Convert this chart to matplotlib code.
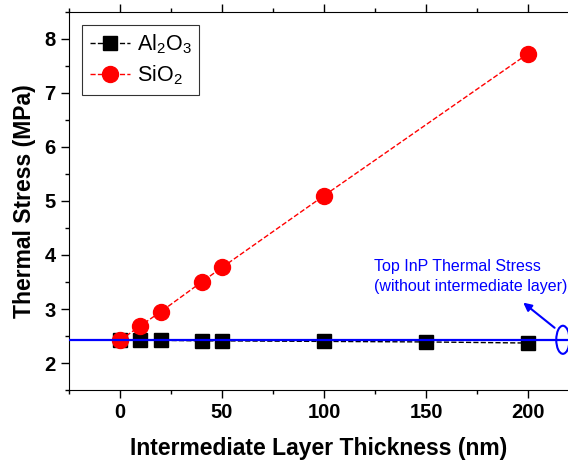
import matplotlib
matplotlib.use("Agg")
import matplotlib.pyplot as plt
from matplotlib.patches import Ellipse
from matplotlib.ticker import MultipleLocator

plt.rcParams['font.family'] = ['Liberation Sans', 'DejaVu Sans']
plt.rcParams['mathtext.fontset'] = 'custom'
plt.rcParams['mathtext.rm'] = 'Liberation Sans'
plt.rcParams['mathtext.it'] = 'Liberation Sans'

# data
al_x = [0, 10, 20, 40, 50, 100, 150, 200]
al_y = [2.42, 2.42, 2.42, 2.41, 2.41, 2.40, 2.39, 2.37]
si_x = [0, 10, 20, 40, 50, 100, 200]
si_y = [2.42, 2.69, 2.95, 3.50, 3.77, 5.10, 7.73]
inp_stress = 2.43

fig = plt.figure(figsize=(5.68, 4.61), dpi=100)
ax = fig.add_axes([0.1215, 0.154, 0.8785, 0.82])

ax.plot(al_x, al_y, 'k--', lw=1, marker='s', ms=10, mfc='black', mec='black',
        label=r'Al$_2$O$_3$', zorder=3)
ax.plot(si_x, si_y, '--', color='red', lw=1, marker='o', ms=11.5, mfc='red', mec='red',
        label=r'SiO$_2$', zorder=4)
ax.axhline(inp_stress, color='blue', lw=1.6, zorder=5)

ax.set_xlim(-25, 219.5)
ax.set_ylim(1.5, 8.5)
ax.xaxis.set_major_locator(MultipleLocator(50))
ax.xaxis.set_minor_locator(MultipleLocator(25))
ax.yaxis.set_major_locator(MultipleLocator(1))
ax.yaxis.set_minor_locator(MultipleLocator(0.5))
ax.tick_params(which='both', direction='out', top=True, width=1)
ax.tick_params(which='major', length=6, labelsize=14.5)
ax.tick_params(which='minor', length=3)
for lab in ax.get_xticklabels() + ax.get_yticklabels():
    lab.set_fontweight('bold')
ax.spines['right'].set_visible(False)

ax.set_xlabel('Intermediate Layer Thickness (nm)', fontsize=16.5, fontweight='bold', labelpad=11)
ax.set_ylabel('Thermal Stress (MPa)', fontsize=16.5, fontweight='bold', labelpad=6)

ax.text(124.5, 3.6, 'Top InP Thermal Stress\n(without intermediate layer)', color='blue',
        fontsize=11.5, ha='left', va='center', linespacing=1.45)
ax.add_patch(Ellipse((217, inp_stress), 6.5, 0.52, fill=False, ec='blue', lw=1.5,
                     zorder=6, clip_on=False))
ax.annotate('', xy=(196.5, 3.15), xytext=(214, 2.62),
            arrowprops=dict(arrowstyle='-|>', color='blue', lw=1.5, mutation_scale=12))

leg = ax.legend(loc='upper left', bbox_to_anchor=(0.026, 0.966), borderaxespad=0,
                fontsize=15.5, frameon=True, fancybox=False, edgecolor='black',
                handlelength=1.9, handletextpad=0.3, borderpad=0.35, labelspacing=0.35)
leg.get_frame().set_linewidth(0.8)

fig.savefig('out.png', dpi=100)
